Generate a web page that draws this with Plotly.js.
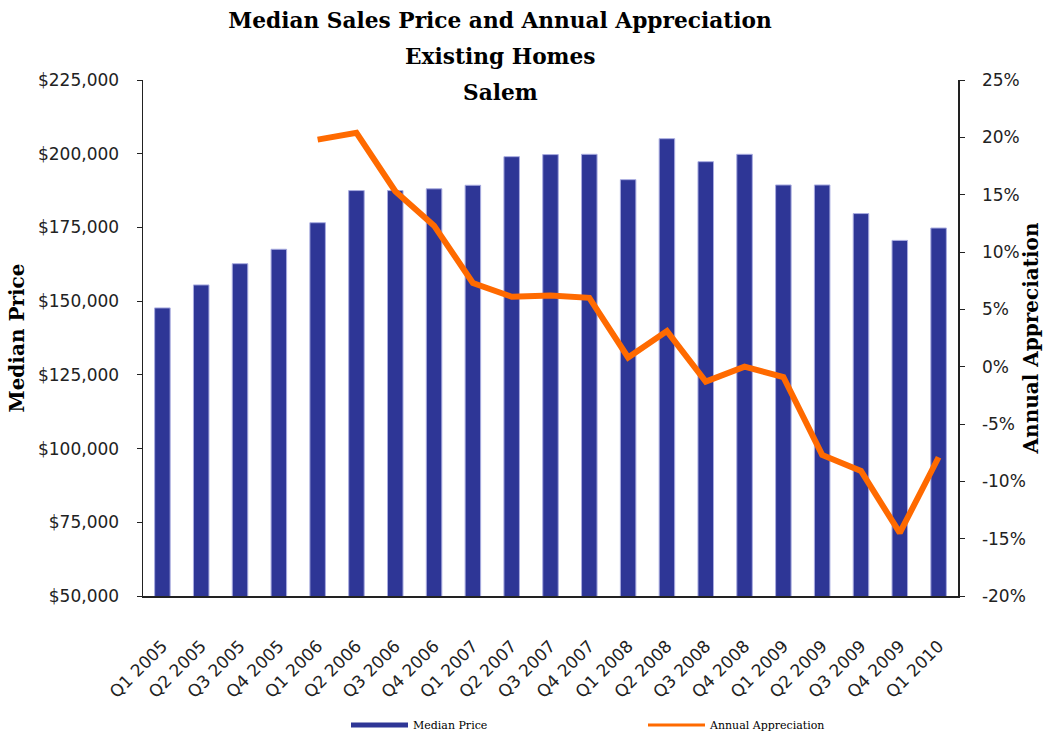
<!DOCTYPE html>
<html>
<head>
<meta charset="utf-8">
<script src="https://cdn.plot.ly/plotly-3.0.1.min.js"></script>
<style>html,body{margin:0;padding:0;background:#fff;}#chart{width:1043px;height:736px;}</style>
</head>
<body>
<div id="chart"></div>
<script>
const quarters = ["Q1 2005","Q2 2005","Q3 2005","Q4 2005","Q1 2006","Q2 2006","Q3 2006","Q4 2006",
  "Q1 2007","Q2 2007","Q3 2007","Q4 2007","Q1 2008","Q2 2008","Q3 2008","Q4 2008",
  "Q1 2009","Q2 2009","Q3 2009","Q4 2009","Q1 2010"];
const medianPrice = [147700,155500,162700,167600,176600,187500,187500,188100,
  189300,199000,199700,199800,191200,205100,197300,199800,
  189400,189400,179700,170600,174800];
const annualAppreciation = [null,null,null,null,19.8,20.4,15.3,12.3,
  7.3,6.1,6.2,6.0,0.8,3.1,-1.3,0.0,
  -0.9,-7.7,-9.1,-14.5,-7.9];
const priceTicks = [50000,75000,100000,125000,150000,175000,200000,225000];
const pctTicks = [-20,-15,-10,-5,0,5,10,15,20,25];
const pctTickText = ["-20%","-15%","-10%","-5%","0%","5%","10%","15%","20%","25%"];

const BLUE = "#2E3696", ORANGE = "#FF6A00";
const tickFont = {family: "DejaVu Sans", size: 17, color: "#222"};
const titleFont = {family: "DejaVu Serif", size: 21.7, color: "#000"};
const axisTitleFont = {family: "DejaVu Serif", size: 20, color: "#000"};

const traces = [
  {type: "bar", x: quarters, y: medianPrice, name: "Median Price", showlegend: false,
   marker: {color: BLUE, line: {color: "#A9ACE0", width: 1}}, hoverinfo: "x+y"},
  {type: "scatter", mode: "lines", x: quarters, y: annualAppreciation, yaxis: "y2",
   name: "Annual Appreciation", showlegend: false, line: {color: ORANGE, width: 6}},
  {type: "scatter", mode: "lines", x: [null], y: [null], name: "Median Price",
   line: {color: BLUE, width: 5}, hoverinfo: "skip"},
  {type: "scatter", mode: "lines", x: [null], y: [null], name: "Annual Appreciation", yaxis: "y2",
   line: {color: ORANGE, width: 3}, hoverinfo: "skip"}
];

const layout = {
  width: 1043, height: 736,
  margin: {l: 143, r: 85, t: 80, b: 140},
  paper_bgcolor: "#fff", plot_bgcolor: "#fff",
  bargap: 0.6,
  title: {text: "<b>Median Sales Price and Annual Appreciation</b>", font: titleFont,
    x: 500/1043, xanchor: "center", xref: "container", y: 1 - 20/736, yanchor: "middle", yref: "container"},
  annotations: [
    {text: "<b>Existing Homes</b>", xref: "paper", yref: "paper", x: (500-143)/815, y: (596-57)/516,
     xanchor: "center", yanchor: "middle", showarrow: false, font: titleFont},
    {text: "<b>Salem</b>", xref: "paper", yref: "paper", x: (500-143)/815, y: (596-92)/516,
     xanchor: "center", yanchor: "middle", showarrow: false, font: titleFont}
  ],
  xaxis: {type: "category", tickangle: -45, tickfont: tickFont, showline: true, linecolor: "#222", linewidth: 1.5,
    ticks: "", showgrid: false, ticklabelstandoff: 32, automargin: false},
  yaxis: {range: [50000, 225000], tickvals: priceTicks, tickformat: "$,.0f", tickfont: tickFont,
    showline: true, linecolor: "#222", linewidth: 1.5, ticks: "outside", ticklen: 5, tickcolor: "#222",
    showgrid: false, zeroline: false, ticklabelstandoff: 14, automargin: false,
    title: {text: "<b>Median Price</b>", font: axisTitleFont, standoff: 8}},
  yaxis2: {overlaying: "y", side: "right", range: [-20, 25], tickvals: pctTicks, ticktext: pctTickText,
    tickfont: tickFont, showline: true, linecolor: "#222", linewidth: 1.5, ticks: "outside", ticklen: 5,
    tickcolor: "#222", showgrid: false, zeroline: false, ticklabelstandoff: 14, automargin: false,
    title: {text: "<b>Annual Appreciation</b>", font: axisTitleFont, standoff: 2}},
  legend: {orientation: "h", x: (346-143)/815, xanchor: "left", yref: "container", y: 1 - 725/736, yanchor: "middle",
    font: {family: "DejaVu Serif", size: 11, color: "#000"}, itemwidth: 57, entrywidth: 225, entrywidthmode: "pixels",
    bgcolor: "rgba(0,0,0,0)"},
  showlegend: true
};

Plotly.newPlot("chart", traces, layout, {displayModeBar: false, staticPlot: true});
</script>
</body>
</html>
